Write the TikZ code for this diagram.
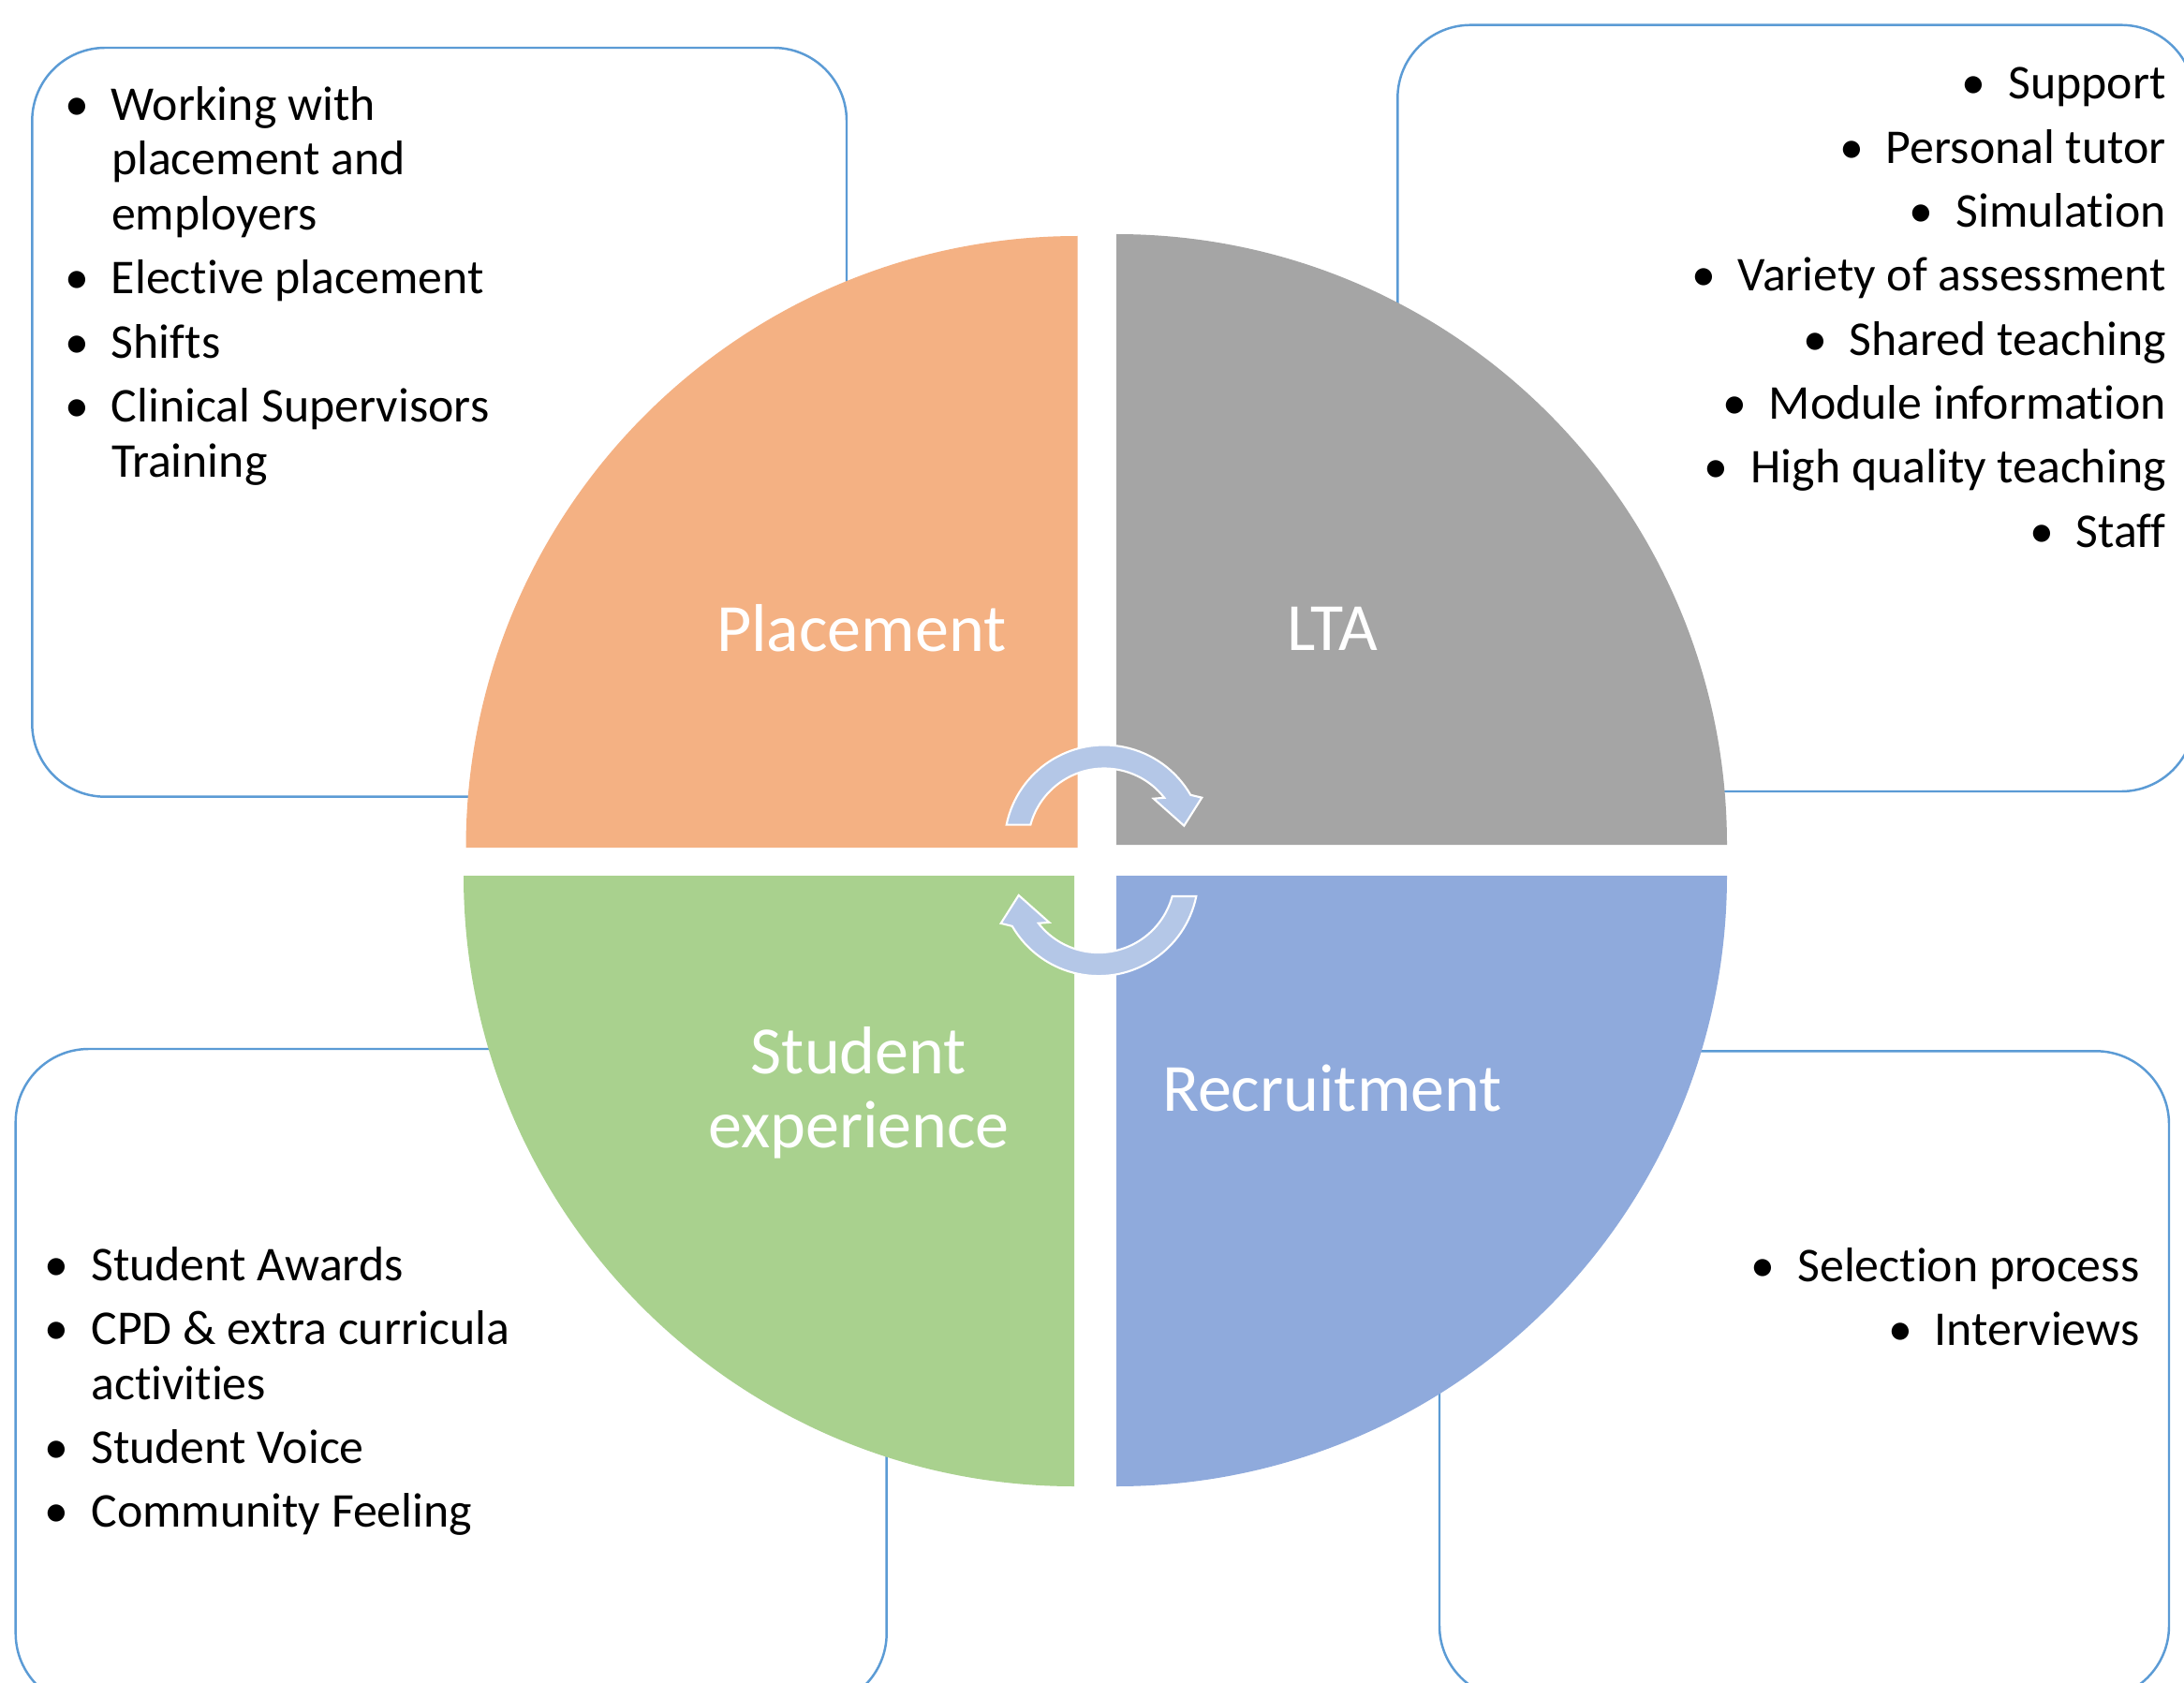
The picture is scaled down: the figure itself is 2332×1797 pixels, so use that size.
\documentclass[tikz,border=0pt]{standalone}
\usepackage{fontspec}
\setmainfont{Carlito}[Ligatures=NoCommon]
\usetikzlibrary{calc}

\definecolor{frameblue}{HTML}{5B9BD5}
\definecolor{qorange}{HTML}{F4B183}
\definecolor{qgray}{HTML}{A5A5A5}
\definecolor{qgreen}{HTML}{A9D18E}
\definecolor{qblue}{HTML}{8FAADC}
\definecolor{cyclefill}{HTML}{B4C7E7}

% bullet hanging to the left of the text start
\newcommand\bul{\llap{\makebox[0.732cm][c]{\textbullet}}}

\tikzset{
  frame box/.style={draw=frameblue, line width=0.7pt, fill=white, rounded corners=0.78cm},
  item/.style={inner sep=0pt, text=black, font=\fontsize{14.74pt}{16.7pt}\selectfont},
  quad label/.style={inner sep=0pt, text=white, font=\fontsize{20.5pt}{24pt}\selectfont},
  cycle arrow/.style={fill=cyclefill, draw=white, line width=0.6pt, line join=miter},
  pics/cyclearrow/.style={code={
    \path[cycle arrow] (191.6:106.5) arc[start angle=191.6, end angle=330, radius=106.5]
      -- (104.3,-50.3) -- (85.3,-20.3) -- (52.7,-49.3)
      -- (322:81.5) arc[start angle=322, end angle=195.2, radius=81.5] -- cycle;
  }},
}

\begin{document}
\begin{tikzpicture}[x=0.01cm, y=-0.01cm]
\useasboundingbox (0,0) rectangle (2332,1797);
\clip (0,0) rectangle (2332,1797);
\fill[white] (0,0) rectangle (2332,1797);

% text boxes
\draw[frame box] (34.3,51) rectangle (904,850.7);
\draw[frame box] (1492.3,26.7) rectangle (2343,845);
\draw[frame box] (16.7,1120) rectangle (946.7,1822);
\draw[frame box] (1537,1122.3) rectangle (2316,1814);

% Placement items
\node[item, anchor=base west] (pl1)  at (118.3,128.3) {\bul Working with};
\node[item, anchor=base west] (pl1b) at (118.3,187.0) {placement and};
\node[item, anchor=base west] (pl1c) at (118.3,245.7) {employers};
\node[item, anchor=base west] (pl2)  at (118.3,314.0) {\bul Elective placement};
\node[item, anchor=base west] (pl3)  at (118.3,382.3) {\bul Shifts};
\node[item, anchor=base west] (pl4)  at (118.3,450.6) {\bul Clinical Supervisors};
\node[item, anchor=base west] (pl4b) at (118.3,509.3) {Training};

% LTA items
\foreach \t [count=\i from 0] in {Support,Personal tutor,Simulation,Variety of assessment,Shared teaching,Module information,High quality teaching,Staff}
  \node[item, anchor=base east] (lta\i) at (2313.5,{105.9+68.3*\i}) {\bul\t};

% Student experience items
\node[item, anchor=base west] (se1)  at (96.7,1367.0) {\bul Student Awards};
\node[item, anchor=base west] (se2)  at (96.7,1435.3) {\bul CPD \& extra curricula};
\node[item, anchor=base west] (se2b) at (96.7,1494.0) {activities};
\node[item, anchor=base west] (se3)  at (96.7,1562.3) {\bul Student Voice};
\node[item, anchor=base west] (se4)  at (96.7,1630.6) {\bul Community Feeling};

% Recruitment items
\node[item, anchor=base east] (rc1) at (2285,1368.3) {\bul Selection process};
\node[item, anchor=base east] (rc2) at (2285,1436.6) {\bul Interviews};

% quadrants
\fill[qorange] (1150.5,905) -- ++(-653,0) arc[start angle=180, end angle=270, radius=653] -- cycle;
\fill[qgray]   (1192,902) -- ++(0,-652) arc[start angle=270, end angle=360, radius=652] -- cycle;
\fill[qblue]   (1192,935) -- ++(652,0) arc[start angle=0, end angle=90, radius=652] -- cycle;
\fill[qgreen]  (1147,935) -- ++(0,652) arc[start angle=90, end angle=180, radius=652] -- cycle;

% quadrant labels
\node[quad label, anchor=base] (placement) at (919.8,695) {Placement};
\node[quad label, anchor=base] (lta)       at (1423,694) {LTA};
\node[quad label, anchor=base] (student)   at (917,1146) {Student};
\node[quad label, anchor=base] (experience) at (917,1225) {experience};
\node[quad label, anchor=base] (recruit)   at (1422.5,1186) {Recruitment};

% cycle arrows
\pic (topcycle) at (1179,902) {cyclearrow};
\pic[rotate=180] (bottomcycle) at (1173,935.6) {cyclearrow};
\end{tikzpicture}
\end{document}
